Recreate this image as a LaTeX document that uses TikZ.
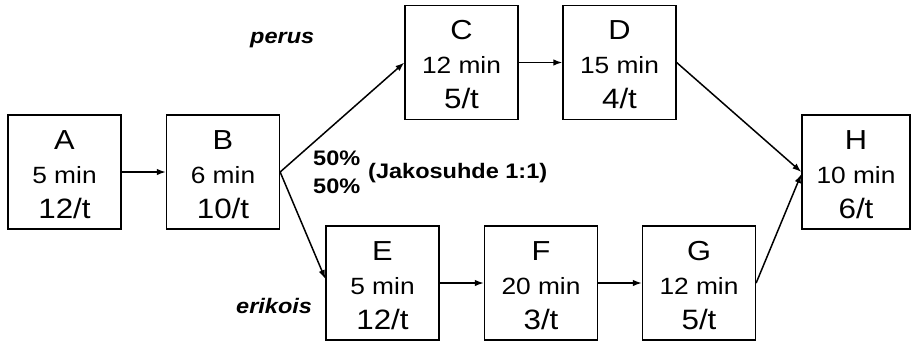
\documentclass[tikz,border=0pt]{standalone}
\usepackage{fontspec}
\setmainfont[FakeStretch=1.12]{Liberation Sans}
\usetikzlibrary{arrows.meta}
\tikzset{
  procbox/.style={draw, line width=1.3pt, minimum width=113pt, minimum height=114pt, inner sep=0pt},
  ttl/.style={anchor=base, inner sep=0pt, font=\fontsize{27.5}{30}\selectfont},
  tmin/.style={anchor=base, inner sep=0pt, font=\fontsize{23.5}{26}\selectfont},
  trate/.style={anchor=base, inner sep=0pt, font=\fontsize{28}{30}\selectfont},
  flow/.style={-{Latex[length=9pt,width=6.5pt]}, line width=1.5pt},
  note/.style={anchor=base west, inner sep=0pt, font=\bfseries\itshape\fontsize{21}{24}\selectfont},
  pct/.style={anchor=base west, inner sep=0pt, font=\bfseries\fontsize{21}{24}\selectfont}
}
\newcommand\pbox[6]{%
  \node[procbox] (#1) at (#2,#3) {};
  \node[ttl]   (#1t) at ([yshift=-35pt]#1.north) {#4};
  \node[tmin]  (#1m) at ([yshift=-69pt]#1.north) {#5};
  \node[trate] (#1r) at ([yshift=-104pt]#1.north) {#6};
}
\begin{document}
\begin{tikzpicture}[x=1pt,y=-1pt]
\useasboundingbox (0,0) rectangle (911,341);
\pbox{A}{64.5}{172}{A}{5 min}{12/t}
\pbox{B}{223}{172}{B}{6 min}{10/t}
\pbox{C}{461.5}{62.5}{C}{12 min}{5/t}
\pbox{D}{619.5}{62.5}{D}{15 min}{4/t}
\pbox{E}{382.5}{283}{E}{5 min}{12/t}
\pbox{F}{541}{283}{F}{20 min}{3/t}
\pbox{G}{699}{283}{G}{12 min}{5/t}
\node[draw, line width=1.3pt, minimum width=108pt, minimum height=114pt, inner sep=0pt] (H) at (856,172) {};
\node[ttl]   (Ht) at ([yshift=-35pt]H.north) {H};
\node[tmin]  (Hm) at ([yshift=-69pt]H.north) {10 min};
\node[trate] (Hr) at ([yshift=-104pt]H.north) {6/t};
\draw[flow] (A.east) -- (B.west);
\draw[flow] (B.east) -- (C.west);
\draw[flow] (C.east) -- (D.west);
\draw[flow] (D.east) -- (H.west);
\draw[flow] (B.east) -- ([yshift=4pt]E.west);
\draw[flow] (E.east) -- (F.west);
\draw[flow] (F.east) -- (G.west);
\draw[flow] (G.east) -- ([yshift=-2pt]H.west);
\node[note] (perus) at (250,43) {perus};
\node[note] (erikois) at (236,313) {erikois};
\node[pct] (p1) at (313,165) {50\%};
\node[pct] (p2) at (313,193) {50\%};
\node[pct] (ratio) at (368,178) {(Jakosuhde 1:1)};
\end{tikzpicture}
\end{document}
